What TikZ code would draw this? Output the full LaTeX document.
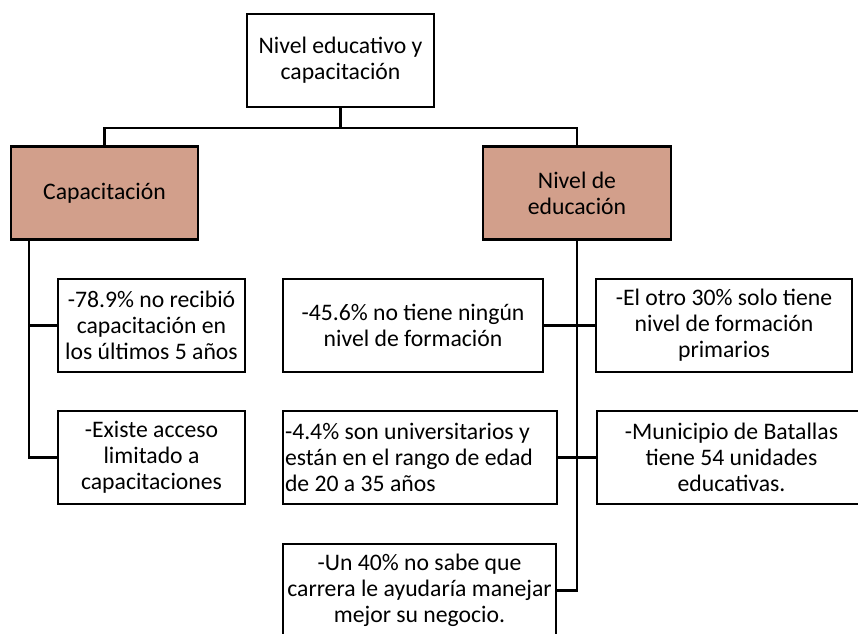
\documentclass[tikz,border=0pt]{standalone}
\usepackage{fontspec}
\setmainfont{Carlito}
\definecolor{boxfill}{RGB}{210,159,139}
\tikzset{
  box/.style={draw=black,minimum width=#1,minimum height=93pt,inner xsep=2pt,align=center,font=\fontsize{23.7}{26}\selectfont},
  headbox/.style={box=#1,fill=boxfill}
}
\begin{document}
\begin{tikzpicture}[x=1pt,y=-1pt,line width=2.2pt]
\clip (0,0) rectangle (858,633);
\node[box=187pt] (nivel) at (340.5,60.5) {Nivel educativo y\\capacitación};
\node[headbox=187pt] (capac) at (104.5,193) {Capacitación};
\node[headbox=188pt] (educ) at (577,193) {Nivel de\\educación};
\node[box=187pt] (capA) at (151.5,325.5) {-78.9\% no recibió\\capacitación en\\los últimos 5 años};
\node[box=187pt] (capB) at (151.5,457.5) {-Existe acceso\\limitado a\\capacitaciones};
\node[box=260pt] (eduA) at (413,325.5) {-45.6\% no tiene ningún\\nivel de formación};
\node[box=256pt] (eduB) at (724,325.5) {-El otro 30\% solo tiene\\nivel de formación\\primarios};
\node[box=274pt,text width=270pt,align=flush left] (eduC) at (420,457.5) {-4.4\% son universitarios y\\están en el rango de edad\\de 20 a 35 años};
\node[box=269pt] (eduD) at (731.5,457.5) {-Municipio de Batallas\\tiene 54 unidades\\educativas.};
\node[box=273pt] (eduE) at (419.5,590.5) {-Un 40\% no sabe que\\carrera le ayudaría manejar\\mejor su negocio.};
\draw (nivel.south) -- ++(0,20) coordinate (fork);
\draw (capac.north) |- (fork) -| (educ.north);
\coordinate (spine) at ([xshift=19pt]capac.south west);
\draw (spine) |- (capA.west);
\draw (spine) |- (capB.west);
\draw (educ.south) |- (eduE.east);
\draw (eduA.east) -- (eduB.west);
\draw (eduC.east) -- (eduD.west);
\end{tikzpicture}
\end{document}
